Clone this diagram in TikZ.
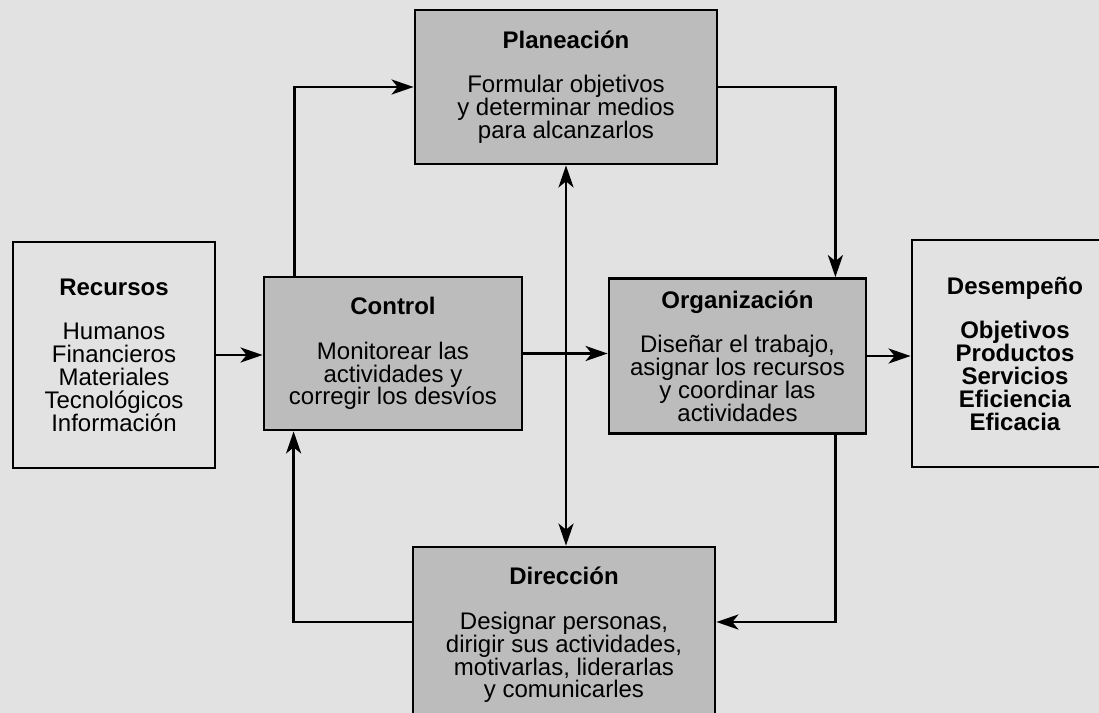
\documentclass[tikz,border=0pt]{standalone}
\usepackage{fontspec}
\setmainfont{Liberation Sans}
\usepackage{tikz}
\usetikzlibrary{positioning,calc}
\usetikzlibrary{arrows.meta}
\definecolor{PaperGray}{RGB}{226,226,226}
\definecolor{BoxGray}{RGB}{188,188,188}
\tikzset{
  stage/.style={draw=black,line width=1.4pt,fill=BoxGray,align=center,inner sep=4pt,
    font=\fontsize{12}{11.4}\selectfont},
  pool/.style={stage,fill=PaperGray},
  flow/.style={draw=black,line width=1.4pt,->},
  >={Stealth[length=11pt,width=7.5pt,inset=3pt]},
}

\begin{document}
\begin{tikzpicture}[x=0.5pt,y=-0.5pt]
\useasboundingbox (0,0) rectangle (1099,713);
\clip (0,0) rectangle (1099,713);
\fill[PaperGray] (0,0) rectangle (1099,713);
% boxes
\node[pool,minimum width=101pt,minimum height=113pt] (recursos) at (114,355)
  {\textbf{Recursos}\\[11pt]Humanos\\Financieros\\Materiales\\Tecnológicos\\Información};
\node[stage,minimum width=129pt,minimum height=76.5pt] (control) at (393,353.5)
  {\textbf{Control}\\[11pt]Monitorear las\\actividades y\\corregir los desvíos};
\node[stage,minimum width=151pt,minimum height=77pt] (planeacion) at (566,87)
  {\textbf{Planeación}\\[11pt]Formular objetivos\\y determinar medios\\para alcanzarlos};
\node[stage,minimum width=128.5pt,minimum height=77.5pt] (organizacion) at (737.5,356)
  {\textbf{Organización}\\[11pt]Diseñar el trabajo,\\asignar los recursos\\y coordinar las\\actividades};
\node[pool,minimum width=103pt,minimum height=113.5pt] (desempeno) at (1015,353.5)
  {\textbf{Desempeño}\\[11pt]\textbf{Objetivos}\\\textbf{Productos}\\\textbf{Servicios}\\\textbf{Eficiencia}\\\textbf{Eficacia}};
\node[stage,minimum width=151pt,minimum height=88pt] (direccion) at (564,635)
  {\textbf{Dirección}\\[11pt]Designar personas,\\dirigir sus actividades,\\motivarlas, liderarlas\\y comunicarles};
% connectors
\draw[flow] (recursos.east) -- (recursos.east -| control.west);
\draw[flow] ([xshift=16pt]control.north west) |- (planeacion.west);
\draw[flow] (planeacion.east) -| ([xshift=-16pt]organizacion.north east);
\draw[flow] (control.east) -- (control.east -| organizacion.west);
\draw[flow] (organizacion.east) -- (organizacion.east -| desempeno.west);
\draw[flow,<->] (planeacion.south) -- (planeacion.south |- direccion.north);
\draw[flow] ([xshift=-16pt]organizacion.south east) |- ([yshift=6.5pt]direccion.east);
\draw[flow] ([yshift=6.5pt]direccion.west) -| ([xshift=15.5pt]control.south west);
\end{tikzpicture}
\end{document}
